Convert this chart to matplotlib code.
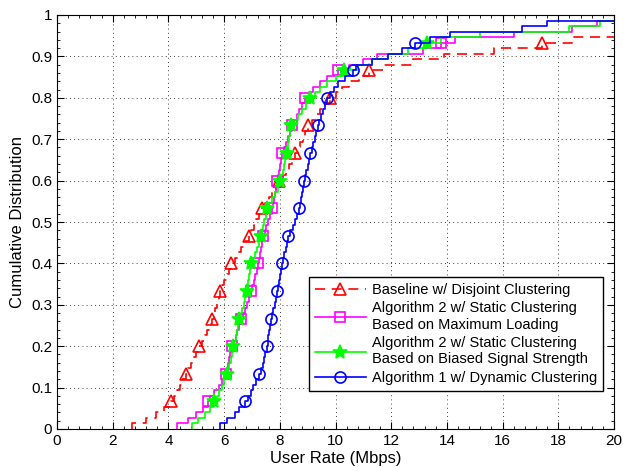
import matplotlib
matplotlib.use("Agg")
import matplotlib.pyplot as plt
from matplotlib.lines import Line2D
from matplotlib.ticker import AutoMinorLocator
import numpy as np

plt.rcParams['font.family'] = ['Liberation Sans', 'DejaVu Sans']

# sorted user rates (Mbps), 75 users per scheme
baseline = [2.68, 3.2, 3.55, 3.85, 4.08,
            4.2, 4.3, 4.4, 4.5, 4.62,
            4.7, 4.8, 4.9, 5.0, 5.10,
            5.2, 5.3, 5.38, 5.47, 5.56,
            5.62, 5.68, 5.74, 5.8, 5.85,
            5.93, 6.0, 6.1, 6.18, 6.26,
            6.38, 6.5, 6.62, 6.75, 6.89,
            6.98, 7.07, 7.16, 7.25, 7.35,
            7.47, 7.6, 7.72, 7.85, 7.97,
            8.1, 8.22, 8.33, 8.45, 8.56,
            8.65, 8.74, 8.83, 8.92, 9.02,
            9.15, 9.3, 9.45, 9.62, 9.80,
            10.0, 10.25, 10.5, 10.85, 11.2,
            11.7, 12.8, 13.9, 15.7, 17.4,
            18.5, 21, 23, 26, 30]

alg2_maxload = [4.3, 4.7, 5.0, 5.25, 5.42,
                5.5, 5.65, 5.8, 5.92, 6.06,
                6.1, 6.14, 6.18, 6.22, 6.27,
                6.34, 6.41, 6.48, 6.55, 6.61,
                6.67, 6.74, 6.81, 6.88, 6.95,
                7.0, 7.06, 7.12, 7.17, 7.23,
                7.26, 7.29, 7.32, 7.36, 7.4,
                7.46, 7.52, 7.58, 7.65, 7.71,
                7.74, 7.78, 7.81, 7.85, 7.89,
                7.93, 7.96, 8.0, 8.03, 8.07,
                8.14, 8.22, 8.3, 8.38, 8.45,
                8.52, 8.6, 8.7, 8.8, 8.9,
                9.05, 9.2, 9.45, 9.7, 10.1,
                10.5, 11.0, 11.5, 13.15, 13.8,
                14.3, 16.4, 18.5, 19.4, 22]

alg2_signal = [4.84, 5.05, 5.3, 5.5, 5.65,
               5.74, 5.83, 5.92, 6.0, 6.09,
               6.14, 6.19, 6.24, 6.28, 6.33,
               6.37, 6.42, 6.46, 6.5, 6.55,
               6.6, 6.65, 6.7, 6.76, 6.81,
               6.84, 6.87, 6.9, 6.94, 6.97,
               7.04, 7.11, 7.18, 7.26, 7.33,
               7.37, 7.41, 7.45, 7.49, 7.53,
               7.62, 7.72, 7.82, 7.92, 8.01,
               8.06, 8.11, 8.16, 8.2, 8.25,
               8.28, 8.31, 8.34, 8.37, 8.40,
               8.52, 8.65, 8.8, 8.95, 9.08,
               9.25, 9.45, 9.7, 10.0, 10.3,
               10.8, 11.3, 11.9, 12.6, 13.27,
               13.8, 15.2, 18.4, 19.5, 22]

alg1_dynamic = [5.85, 6.1, 6.4, 6.55, 6.75,
                6.85, 6.95, 7.05, 7.15, 7.27,
                7.33, 7.38, 7.43, 7.48, 7.53,
                7.56, 7.59, 7.62, 7.64, 7.67,
                7.72, 7.77, 7.82, 7.86, 7.91,
                7.94, 7.97, 8.0, 8.04, 8.07,
                8.12, 8.16, 8.21, 8.26, 8.31,
                8.38, 8.46, 8.54, 8.62, 8.70,
                8.73, 8.77, 8.8, 8.84, 8.87,
                8.91, 8.95, 9.0, 9.04, 9.08,
                9.14, 9.2, 9.25, 9.3, 9.36,
                9.42, 9.48, 9.55, 9.62, 9.68,
                9.8, 9.95, 10.1, 10.35, 10.62,
                10.75, 11.3, 11.9, 12.4, 12.85,
                13.4, 14.1, 16.7, 17.6, 21]

labels = ["Baseline w/ Disjoint Clustering",
          "Algorithm 2 w/ Static Clustering\nBased on Maximum Loading",
          "Algorithm 2 w/ Static Clustering\nBased on Biased Signal Strength",
          "Algorithm 1 w/ Dynamic Clustering"]

xticks = [0, 2, 4, 6, 8, 10, 12, 14, 16, 18, 20]
yticks = [0, 0.1, 0.2, 0.3, 0.4, 0.5, 0.6, 0.7, 0.8, 0.9, 1]
ytick_labels = ["0", "0.1", "0.2", "0.3", "0.4", "0.5", "0.6", "0.7", "0.8", "0.9", "1"]


def cdf_xy(samples):
    s = np.sort(np.asarray(samples, dtype=float))
    n = len(s)
    x = np.concatenate([[s[0]], s])
    y = np.concatenate([[0.0], np.arange(1, n + 1) / n])
    return x, y


styles = [dict(color="red", ls=(0, (6, 4)), marker="^", ms=8, mfc="none"),
          dict(color="magenta", ls="-", marker="s", ms=6.5, mfc="none"),
          dict(color="#00ff00", ls="-", marker="*", ms=10, mfc="#00ff00"),
          dict(color="blue", ls="-", marker="o", ms=8, mfc="none")]

fig = plt.figure(figsize=(6.23, 4.67), dpi=100)
ax = fig.add_axes([57 / 623, 1 - 429 / 467, 557 / 623, 414 / 467])

handles = []
for data, st in zip([baseline, alg2_maxload, alg2_signal, alg1_dynamic], styles):
    x, y = cdf_xy(data)
    ax.plot(x, y, drawstyle="steps-post", color=st["color"], linestyle=st["ls"],
            linewidth=1.2, marker=st["marker"], markersize=st["ms"], markevery=(5, 5),
            markerfacecolor=st["mfc"], markeredgewidth=1.2)
    handles.append(Line2D([], [], color=st["color"], linestyle=st["ls"], linewidth=1.2,
                          marker=st["marker"], markersize=st["ms"],
                          markerfacecolor=st["mfc"], markeredgewidth=1.2))

ax.set_xlim(0, 20)
ax.set_ylim(0, 1)
ax.set_xticks(xticks)
ax.set_yticks(yticks)
ax.set_yticklabels(ytick_labels)
ax.xaxis.set_minor_locator(AutoMinorLocator(5))
ax.yaxis.set_minor_locator(AutoMinorLocator(5))
ax.tick_params(which="both", direction="in", top=True, right=True, labelsize=11, colors="k")
ax.tick_params(which="major", length=5, width=0.8)
ax.tick_params(which="minor", length=2.5, width=0.6)
ax.grid(True, which="major", color="k", linestyle=(0, (1, 4)), linewidth=0.6)
for sp in ax.spines.values():
    sp.set_linewidth(0.8)

ax.set_xlabel("User Rate (Mbps)", fontsize=12, labelpad=2)
ax.set_ylabel("Cumulative Distribution", fontsize=12, labelpad=4)

leg = ax.legend(handles, labels, loc="lower right", bbox_to_anchor=(0.98, 0.092),
                fontsize=10.5, handlelength=3.5, handletextpad=0.4, labelspacing=0.32,
                borderpad=0.4, borderaxespad=0, fancybox=False, framealpha=1,
                edgecolor="k", numpoints=1)
leg.get_frame().set_linewidth(1.0)

fig.savefig("out.png", dpi=100)
